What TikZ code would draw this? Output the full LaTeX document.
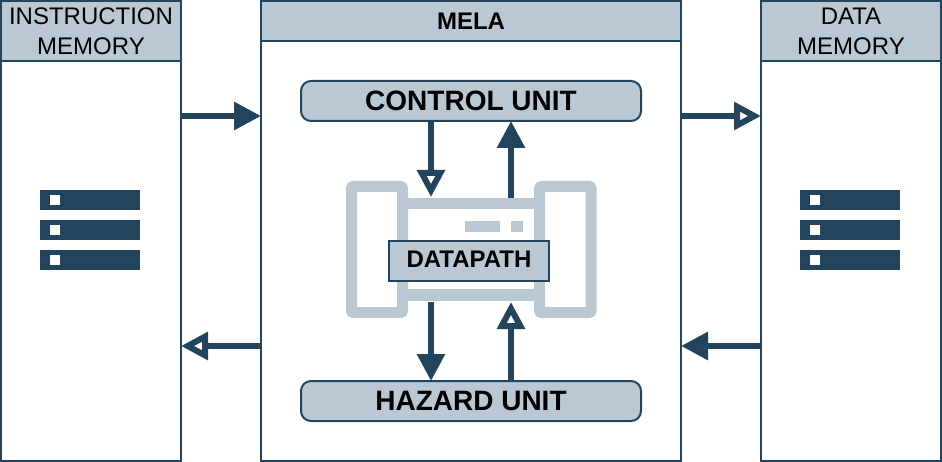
\documentclass[tikz,border=0pt]{standalone}
\usepackage{fontspec}
\setmainfont{Liberation Sans}
\usetikzlibrary{arrows.meta}
\definecolor{navy}{HTML}{23445D}
\definecolor{steel}{HTML}{BAC8D3}
\tikzset{
    panel/.style={draw=navy, line width=2pt, fill=white, anchor=north west, inner sep=0pt, outer sep=0pt},
    header/.style={panel, fill=steel, align=center, font=\fontsize{24}{30}\selectfont},
    unitbox/.style={draw=navy, line width=2pt, fill=steel, rounded corners=10pt, anchor=north west,
        inner sep=0pt, outer sep=0pt, minimum width=340pt, minimum height=40pt, text height=20.8pt, text depth=2pt,
        font=\fontsize{28}{30}\selectfont\bfseries},
    solidflow/.style={draw=navy, line width=6pt, -{Triangle[length=27pt,width=27pt,fill=navy]}},
    openflow/.style={draw=navy, line width=6pt, -{Triangle[length=27pt,width=27pt,fill=white]}},
    icon/.style={draw=steel, line width=11pt, rounded corners=2pt}
}

\begin{document}
\begin{tikzpicture}[x=1pt,y=-1pt]
    \useasboundingbox (0,0) rectangle (942,462);

    % Instruction memory
    \node[panel, minimum width=180pt, minimum height=460pt] (imem) at (1,1) {};
    \node[header, minimum width=180pt, minimum height=60pt] (imemhead) at (1,1) {INSTRUCTION\\MEMORY};

    % Mela core
    \node[panel, minimum width=420pt, minimum height=460pt] (mela) at (261,1) {};
    \node[header, minimum width=420pt, minimum height=40pt, font=\fontsize{24}{30}\selectfont\bfseries] (melahead) at (261,1) {MELA};

    % Data memory
    \node[panel, minimum width=180pt, minimum height=460pt] (dmem) at (761,1) {};
    \node[header, minimum width=180pt, minimum height=60pt] (dmemhead) at (761,1) {DATA\\MEMORY};

    % Storage bars inside both memories
    \foreach \xpos in {40,800} {
        \foreach \ypos in {190,220,250} {
            \fill[navy] (\xpos,\ypos) rectangle +(100,20);
            \fill[white] (\xpos+10,\ypos+5) rectangle +(10,10);
        }
    }

    % Units
    \node[unitbox] (control) at (301,81) {CONTROL UNIT};
    \node[unitbox] (hazard) at (301,381) {HAZARD UNIT};

    % Datapath icon
    \draw[icon] (351.5,186.5) rectangle (402.5,312.5);
    \draw[icon] (539.5,186.5) rectangle (591,312.5);
    \fill[steel] (408,198) rectangle (534,209);
    \fill[steel] (408,289) rectangle (534,300.5);
    \fill[steel] (465,221) rectangle (500,232);
    \fill[steel] (511,221) rectangle (523,232);

    \node[panel, fill=steel, minimum width=160pt, minimum height=40pt, text height=18pt, text depth=4pt,
        font=\fontsize{24}{30}\selectfont\bfseries] (datapath) at (389,241) {DATAPATH};

    % Anchor points on the datapath icon
    \coordinate (dptopin) at (431,197);
    \coordinate (dptopout) at (511,198);
    \coordinate (dpbotout) at (431,302);
    \coordinate (dpbotin) at (511,302);

    % Control and hazard flows
    \draw[openflow] (control.south -| dptopin) -- (dptopin);
    \draw[solidflow] (dptopout) -- (control.south -| dptopout);
    \draw[solidflow] (dpbotout) -- (hazard.north -| dpbotout);
    \draw[openflow] (hazard.north -| dpbotin) -- (dpbotin);

    % Memory flows
    \coordinate (upper) at (0,116);
    \coordinate (lower) at (0,346);
    \draw[solidflow] (imem.east |- upper) -- (mela.west |- upper);
    \draw[openflow] (mela.west |- lower) -- (imem.east |- lower);
    \draw[openflow] (mela.east |- upper) -- (dmem.west |- upper);
    \draw[solidflow] (dmem.west |- lower) -- (mela.east |- lower);
\end{tikzpicture}
\end{document}
